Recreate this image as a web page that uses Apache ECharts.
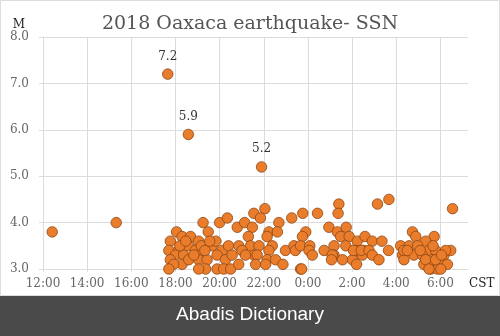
<!DOCTYPE html>
<html>
<head>
<meta charset="utf-8">
<script src="https://cdn.jsdelivr.net/npm/echarts@6/dist/echarts.min.js"></script>
<style>html,body{margin:0;padding:0;background:#fff}#c{width:500px;height:336px}</style>
</head>
<body>
<div id="c"></div>
<script>
// Event times (CST, 16-17 Feb 2018) and magnitudes
const times = [
"12:25","15:19","17:39","18:35","21:54",
"19:15","19:29","20:00","20:21","18:03","17:46","18:18","18:41","19:03","17:42","18:08","18:35","18:00","18:22","18:54","19:13","19:40","20:07","20:24","17:46","18:18","17:55","17:42","18:36","19:03","19:26","19:53","20:16","19:22","19:53","20:11","19:03","19:10","19:50",
"18:12","18:50","19:20","19:33","18:28","20:30",
"22:03","21:33","21:51","20:48","21:08","21:29","22:41","23:16","22:14","22:37","22:09","21:18","20:52","21:24","21:47","22:23","22:59","23:22","20:34","21:01","21:33","22:14","23:26","21:10","21:42","22:09","22:32","20:52","21:38","22:05","22:52","23:40",
"01:24","01:22","23:46","00:26","23:54","23:45","00:57","01:20","01:44","01:29","01:52","02:14","02:35","23:40","00:05","01:11","01:43","02:10","02:32","00:03","00:44","01:11","02:28","00:12","01:06","01:34","02:01","01:04","02:12","23:43","02:04","02:25",
"03:09","03:40","04:44","04:53","02:55","03:21","05:43","05:20","02:46","03:39","04:12","04:35","04:58","02:55","04:17","04:48","05:29","05:47","03:13","04:21","05:11","05:38","05:34","05:52","05:25","04:20",
"05:05","05:15","05:40","06:05","04:30",
"06:33","06:10","06:28","05:20","05:47","06:19","06:01","05:29","06:14","06:03"
];
const mags = [
3.8,4.0,7.2,5.9,5.2,
4.0,3.8,4.0,4.1,3.8,3.6,3.7,3.7,3.6,3.4,3.4,3.5,3.3,3.3,3.4,3.4,3.5,3.4,3.5,3.2,3.1,3.1,3.0,3.2,3.2,3.2,3.3,3.2,3.0,3.0,3.0,3.0,3.5,3.6,
3.5,3.3,3.4,3.6,3.6,3.0,
4.3,4.2,4.1,3.9,4.0,3.9,4.0,4.1,3.8,3.8,3.7,3.7,3.5,3.5,3.5,3.5,3.4,3.5,3.3,3.4,3.3,3.4,3.4,3.3,3.3,3.2,3.2,3.1,3.1,3.1,3.1,3.0,
4.4,4.2,4.2,4.2,3.8,3.7,3.9,3.8,3.9,3.7,3.7,3.6,3.7,3.5,3.5,3.5,3.5,3.4,3.4,3.4,3.4,3.3,3.3,3.3,3.3,3.2,3.2,3.2,3.1,3.0,3.4,3.4,
4.4,4.5,3.8,3.7,3.6,3.6,3.7,3.6,3.4,3.4,3.5,3.5,3.5,3.3,3.3,3.3,3.4,3.4,3.2,3.2,3.3,3.2,3.0,3.0,3.1,3.4,
3.4,3.1,3.5,3.2,3.4,
4.3,3.3,3.4,3.2,3.2,3.1,3.0,3.0,3.4,3.3
];
const startHour = 12;          // x axis origin 12:00 CST
const xTickLabels = ["12:00","14:00","16:00","18:00","20:00","22:00","0:00","2:00","4:00","6:00"];
const titleText = "2018 Oaxaca earthquake- SSN";

function hoursFromStart(t) {
  const [h, m] = t.split(":").map(Number);
  return (((h * 60 + m) - startHour * 60 + 1440) % 1440) / 60;
}
const points = times.map((t, i) => [hoursFromStart(t), mags[i]]);

const serif = "'DejaVu Serif', serif";
const chart = echarts.init(document.getElementById('c'), null, {renderer: 'canvas'});
chart.setOption({
  animation: false,
  backgroundColor: '#fff',
  title: {
    text: titleText, left: 'center', top: 10,
    textStyle: {fontFamily: serif, fontWeight: 'normal', fontSize: 19, color: '#555'}
  },
  grid: {left: 43, right: 32, top: 37, bottom: 67, containLabel: false},
  xAxis: {
    type: 'value', min: 0, max: 19.25, interval: 2,
    name: 'CST', nameLocation: 'end', nameGap: 1,
    nameTextStyle: {fontFamily: serif, fontSize: 12, color: '#222', align: 'left', verticalAlign: 'top', padding: [9, 0, 0, 0]},
    axisLine: {show: true, lineStyle: {color: '#dcdcdc'}},
    axisTick: {show: true, length: 3, lineStyle: {color: '#dcdcdc'}},
    axisLabel: {
      fontFamily: serif, fontSize: 12, color: '#666', margin: 9, showMaxLabel: false,
      formatter: v => xTickLabels[Math.round(v / 2)] || ''
    },
    splitLine: {show: true, showMaxLine: false, lineStyle: {color: '#dcdcdc'}}
  },
  yAxis: {
    type: 'value', min: 3, max: 8, interval: 1,
    name: 'M', nameLocation: 'end', nameGap: 6,
    nameTextStyle: {fontFamily: serif, fontSize: 12, color: '#222', align: 'right', padding: [0, 18, 0, 0]},
    axisLine: {show: true, lineStyle: {color: '#dcdcdc'}},
    axisTick: {show: true, length: 4, lineStyle: {color: '#dcdcdc'}},
    axisLabel: {fontFamily: serif, fontSize: 12, color: '#666', margin: 14, formatter: v => v.toFixed(1)},
    splitLine: {show: true, lineStyle: {color: '#dcdcdc'}}
  },
  series: [{
    type: 'scatter',
    data: points,
    symbol: 'circle',
    symbolSize: 10.5,
    itemStyle: {color: '#EA7D2C', borderColor: '#8E4512', borderWidth: 0.8, opacity: 1},
    label: {
      show: true, position: 'top', distance: 6,
      fontFamily: serif, fontSize: 12, color: '#333',
      formatter: p => p.value[1] >= 5 ? p.value[1].toFixed(1) : ''
    }
  }],
  graphic: [
    {type: 'rect', z: -10, shape: {x: 0.5, y: 0.5, width: 499, height: 295}, style: {fill: 'none', stroke: '#dddddd', lineWidth: 1}},
    {type: 'rect', shape: {x: 0, y: 296, width: 500, height: 40}, style: {fill: '#4a4a4a'}},
    {type: 'text', x: 250, y: 315, style: {text: 'Abadis Dictionary', fill: '#ffffff', font: "19px 'Liberation Sans', Arial, sans-serif", textAlign: 'center', textVerticalAlign: 'middle'}}
  ]
});
</script>
</body>
</html>
